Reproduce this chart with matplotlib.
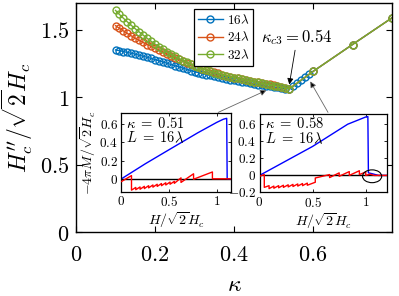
import matplotlib
matplotlib.use("Agg")
import matplotlib.pyplot as plt
from matplotlib.patches import Ellipse

plt.rcParams["mathtext.fontset"] = "cm"
plt.rcParams["font.family"] = "serif"
plt.rcParams["font.serif"] = ["DejaVu Serif"]

# main curves: kappa vs H_c''/sqrt(2)H_c
kappa = [0.10, 0.11, 0.12, 0.13, 0.14, 0.15, 0.16, 0.17, 0.18, 0.19,
         0.20, 0.21, 0.22, 0.23, 0.24, 0.25, 0.26, 0.27, 0.28, 0.29,
         0.30, 0.31, 0.32, 0.33, 0.34, 0.35, 0.36, 0.37, 0.38, 0.39,
         0.40, 0.41, 0.42, 0.43, 0.44, 0.45, 0.46, 0.47, 0.48, 0.49,
         0.50, 0.51, 0.52, 0.53, 0.54]
hc_16 = [1.352, 1.346, 1.340, 1.333, 1.327, 1.320, 1.312, 1.305, 1.297, 1.289,
         1.280, 1.271, 1.262, 1.253, 1.244, 1.235, 1.226, 1.217, 1.208, 1.199,
         1.190, 1.183, 1.176, 1.169, 1.162, 1.155, 1.149, 1.143, 1.137, 1.131,
         1.125, 1.120, 1.115, 1.110, 1.105, 1.100, 1.095, 1.091, 1.086, 1.082,
         1.077, 1.073, 1.069, 1.065, 1.061]
hc_24 = [1.532, 1.512, 1.493, 1.474, 1.456, 1.439, 1.423, 1.407, 1.392, 1.378,
         1.365, 1.350, 1.336, 1.322, 1.308, 1.295, 1.282, 1.269, 1.257, 1.245,
         1.234, 1.223, 1.213, 1.203, 1.194, 1.185, 1.177, 1.169, 1.161, 1.154,
         1.147, 1.141, 1.134, 1.128, 1.122, 1.117, 1.111, 1.106, 1.101, 1.096,
         1.091, 1.086, 1.078, 1.071, 1.064]
hc_32 = [1.645, 1.615, 1.587, 1.560, 1.534, 1.509, 1.485, 1.462, 1.438, 1.416,
         1.395, 1.375, 1.356, 1.338, 1.320, 1.304, 1.288, 1.273, 1.259, 1.246,
         1.234, 1.222, 1.211, 1.201, 1.192, 1.183, 1.175, 1.167, 1.160, 1.153,
         1.146, 1.140, 1.134, 1.128, 1.122, 1.116, 1.110, 1.104, 1.098, 1.093,
         1.087, 1.082, 1.076, 1.069, 1.063]

# tails above kappa_c3
kappa_tail16 = [0.55, 0.56, 0.57, 0.58, 0.59, 0.60, 0.70, 0.80]
hc_tail16 = [1.082, 1.104, 1.126, 1.148, 1.170, 1.192, 1.392, 1.590]
kappa_tail = [0.60, 0.70, 0.80]
hc_tail = [1.192, 1.392, 1.590]

# inset data (H/sqrt(2)H_c, -4 pi M/sqrt(2)H_c)
h1_blue = [0, 0.25, 0.5, 0.8, 1.0, 1.07, 1.105, 1.11, 1.15]
m1_blue = [0, 0.165, 0.32, 0.505, 0.62, 0.655, 0.665, 0.0, 0.0]
h1_red = [0, 0.105, 0.105, 0.15, 0.15, 0.195, 0.195, 0.24, 0.24, 0.285, 0.285,
          0.33, 0.33, 0.375, 0.375, 0.42, 0.42, 0.465, 0.465, 0.51, 0.51,
          0.555, 0.555, 0.625, 0.625, 0.757, 0.757, 0.955, 0.955, 1.15]
m1_red = [-0.03, 0.035, -0.125, -0.095, -0.12, -0.09, -0.115, -0.083, -0.108,
          -0.076, -0.1, -0.068, -0.092, -0.06, -0.084, -0.052, -0.076, -0.044,
          -0.068, -0.036, -0.06, -0.028, -0.05, 0.01, -0.04, 0.055, -0.005,
          0.075, 0.0, 0.0]

h2_blue = [0, 0.5, 0.83, 1.0, 1.02, 1.025, 1.06, 1.12, 1.2]
m2_blue = [0, 0.34, 0.6, 0.685, 0.69, 0.03, 0.02, 0.0, 0.0]
h2_red = [0, 0.045, 0.045, 0.09, 0.09, 0.135, 0.135, 0.18, 0.18, 0.225, 0.225,
          0.27, 0.27, 0.315, 0.315, 0.36, 0.36, 0.405, 0.405, 0.45, 0.45,
          0.525, 0.525, 0.66, 0.66, 0.75, 0.75, 0.845, 0.845, 0.94, 0.94,
          1.0, 1.0, 1.04, 1.08, 1.2]
m2_red = [-0.01, 0.01, -0.14, -0.12, -0.155, -0.125, -0.15, -0.12, -0.145,
          -0.115, -0.14, -0.11, -0.135, -0.105, -0.13, -0.10, -0.125, -0.095,
          -0.12, -0.09, -0.115, -0.08, -0.03, 0.01, -0.025, 0.03, -0.01, 0.045,
          0.0, 0.055, 0.01, 0.04, 0.0, 0.015, 0.0, 0.0]

xticks_main = [0, 0.2, 0.4, 0.6]
yticks_main = [0, 0.5, 1, 1.5]
xticks_in = [0, 0.5, 1]
yticks_in1 = [0, 0.2, 0.4, 0.6]
yticks_in2 = [-0.2, 0, 0.2, 0.4, 0.6]

c16, c24, c32 = "#0072BD", "#D95319", "#77AC30"


def mlab(v):
    return [r"$%g$" % t for t in v]


fig = plt.figure(figsize=(3.99, 2.96), dpi=100)
ax = fig.add_axes([0.1905, 0.2162, 0.792, 0.7736])

mk = dict(marker="o", mfc="none", ms=5.0, mew=1.0, lw=1.0)
ax.plot(kappa + kappa_tail16, hc_16 + hc_tail16, color=c16, label=r"$16\lambda$", **mk)
ax.plot(kappa + kappa_tail, hc_24 + hc_tail, color=c24, label=r"$24\lambda$", **mk)
ax.plot(kappa + kappa_tail, hc_32 + hc_tail, color=c32, label=r"$32\lambda$", **mk)

ax.set_xlim(0, 0.8)
ax.set_ylim(0, 1.7)
ax.set_xticks(xticks_main)
ax.set_xticklabels(mlab(xticks_main))
ax.set_yticks(yticks_main)
ax.set_yticklabels(mlab(yticks_main))
ax.tick_params(direction="in", top=True, right=True, length=4, width=0.8,
               labelsize=16)
ax.tick_params(axis="x", pad=8.5)
ax.tick_params(axis="y", pad=5)
for s in ax.spines.values():
    s.set_linewidth(1.0)
ax.set_xlabel(r"$\kappa$", fontsize=17, labelpad=5)
ax.set_ylabel(r"$H_c^{\prime\prime}/\sqrt{2}H_c$", fontsize=17, labelpad=3.5)

leg = ax.legend(loc="upper left", bbox_to_anchor=(0.365, 0.985), fontsize=9.5,
                handlelength=1.9, handletextpad=0.3, borderpad=0.3,
                labelspacing=0.25, fancybox=False, edgecolor="k", framealpha=1,
                borderaxespad=0.2)
leg.get_frame().set_linewidth(0.9)

ax.annotate(r"$\kappa_{c3}=0.54$", xy=(0.54, 1.095), xytext=(0.56, 1.37),
            fontsize=12, ha="center", va="bottom",
            arrowprops=dict(arrowstyle="-|>", color="k", lw=0.6,
                            mutation_scale=9, shrinkA=0, shrinkB=0))
ax.annotate("", xy=(0.482, 1.052), xytext=(0.36, 0.888),
            arrowprops=dict(arrowstyle="-|>", edgecolor="0.4", facecolor="k",
                            lw=0.6, mutation_scale=9, shrinkA=0, shrinkB=0))
ax.annotate("", xy=(0.593, 1.118), xytext=(0.638, 0.888),
            arrowprops=dict(arrowstyle="-|>", edgecolor="0.4", facecolor="k",
                            lw=0.6, mutation_scale=9, shrinkA=0, shrinkB=0))


def inset(rect, hb, mb, hr, mr, xmax, ylim, yt, kap):
    a = fig.add_axes(rect)
    a.axhline(0, color="k", lw=1.0, zorder=1)
    a.plot(hb, mb, color="#0000FF", lw=1.0, zorder=2)
    a.plot(hr, mr, color="#FF0000", lw=1.0, zorder=3)
    a.set_xlim(0, xmax)
    a.set_ylim(*ylim)
    a.set_xticks(xticks_in)
    a.set_xticklabels(mlab(xticks_in))
    a.set_yticks(yt)
    a.set_yticklabels(mlab(yt))
    a.tick_params(direction="in", top=True, right=True, length=2.5, width=0.6,
                  labelsize=9.5, pad=2.5)
    for s in a.spines.values():
        s.set_linewidth(0.9)
    a.set_xlabel(r"$H/\sqrt{2}H_c$", fontsize=10, labelpad=1)
    a.text(0.04, 0.97, r"$\kappa\;=\;%s$" % kap + "\n" + r"$L\;=\;16\lambda$",
           transform=a.transAxes, fontsize=10.5, va="top", ha="left",
           linespacing=0.95)
    return a


ax1 = inset([0.3045, 0.353, 0.2744, 0.2642], h1_blue, m1_blue, h1_red, m1_red,
            1.15, (-0.14, 0.72), yticks_in1, "0.51")
ax1.set_ylabel(r"$-4\pi M/\sqrt{2}H_c$", fontsize=10, labelpad=1)

ax2 = inset([0.6504, 0.3497, 0.3195, 0.2652], h2_blue, m2_blue, h2_red, m2_red,
            1.2, (-0.2, 0.72), yticks_in2, "0.58")
ax2.add_patch(Ellipse((1.06, -0.01), 0.18, 0.15, fill=False, edgecolor="k",
                      lw=0.8, clip_on=False, zorder=4))

fig.savefig("out.png", dpi=100)
